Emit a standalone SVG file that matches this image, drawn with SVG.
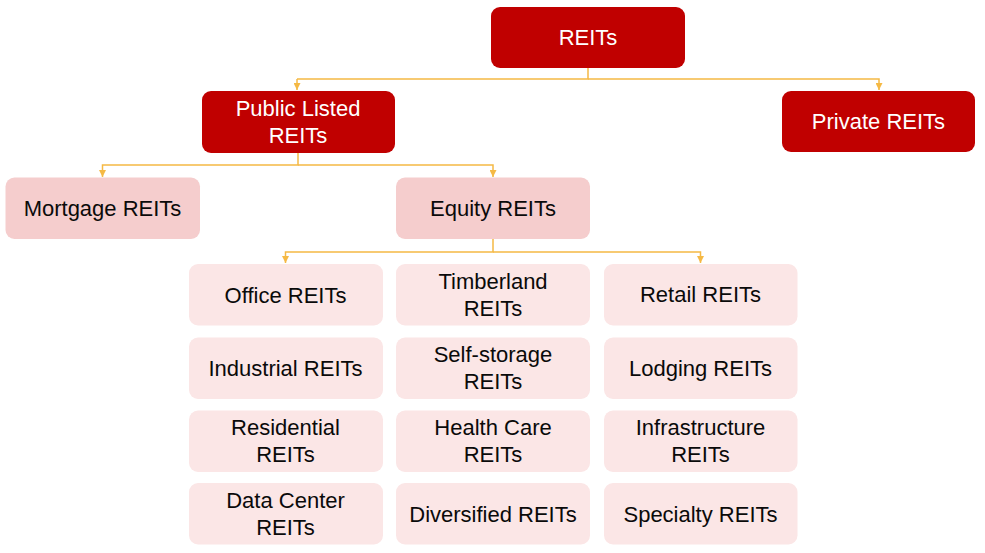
<svg xmlns="http://www.w3.org/2000/svg" width="985" height="553" viewBox="0 0 985 553">
<defs>
<marker id="arr" viewBox="0 0 10 10" refX="10" refY="5" markerWidth="7" markerHeight="7" markerUnits="userSpaceOnUse" orient="auto">
<path d="M0,0 L10,5 L0,10 Z" fill="#F5B944"/>
</marker>
<style>
.lvl1 rect{fill:#C00000}
.lvl2 rect{fill:#F5CDCD}
.lvl3 rect{fill:#FBE6E6}
.lvl1 text{fill:#FFFFFF}
text{font-family:"Liberation Sans",Arial,sans-serif;font-size:22px;text-anchor:middle;fill:#0A0A0A}
.conn path{fill:none;stroke:#F5B944;stroke-width:1.5}
</style>
</defs>
<rect width="985" height="553" fill="#FFFFFF"/>
<g class="conn">
<path d="M588,68 V79 H297"/>
<path d="M297,79 V90" marker-end="url(#arr)"/>
<path d="M588,79 H879 V90" marker-end="url(#arr)"/>
<path d="M298,153 V165 H102.5 V177" marker-end="url(#arr)"/>
<path d="M298,165 H493 V177" marker-end="url(#arr)"/>
<path d="M493,239 V252 H285.5 V263" marker-end="url(#arr)"/>
<path d="M493,252 H700.5 V263" marker-end="url(#arr)"/>
</g>
<g id="reits" class="lvl1"><rect x="491" y="7" width="194" height="61" rx="9"/><text x="588" y="45">REITs</text></g>
<g id="public" class="lvl1"><rect x="202" y="91" width="193" height="62" rx="9"/><text x="298" y="116">Public Listed</text><text x="298" y="143">REITs</text></g>
<g id="private" class="lvl1"><rect x="782" y="91" width="193" height="61" rx="9"/><text x="878.5" y="129">Private REITs</text></g>
<g id="mortgage" class="lvl2"><rect x="5.5" y="177.5" width="194.5" height="61.5" rx="9"/><text x="102.5" y="216">Mortgage REITs</text></g>
<g id="equity" class="lvl2"><rect x="396" y="177.5" width="194" height="61.5" rx="9"/><text x="493" y="216">Equity REITs</text></g>
<g id="office" class="lvl3"><rect x="189" y="264" width="194" height="61.5" rx="9"/><text x="285.5" y="302.5">Office REITs</text></g>
<g id="timberland" class="lvl3"><rect x="396" y="264" width="194" height="61.5" rx="9"/><text x="493" y="289">Timberland</text><text x="493" y="316">REITs</text></g>
<g id="retail" class="lvl3"><rect x="604" y="264" width="193.5" height="61.5" rx="9"/><text x="700.5" y="302">Retail REITs</text></g>
<g id="industrial" class="lvl3"><rect x="189" y="337.5" width="194" height="61.5" rx="9"/><text x="285.5" y="376">Industrial REITs</text></g>
<g id="selfstorage" class="lvl3"><rect x="396" y="337.5" width="194" height="61.5" rx="9"/><text x="493" y="362">Self-storage</text><text x="493" y="389">REITs</text></g>
<g id="lodging" class="lvl3"><rect x="604" y="337.5" width="193.5" height="61.5" rx="9"/><text x="700.5" y="376">Lodging REITs</text></g>
<g id="residential" class="lvl3"><rect x="189" y="410.5" width="194" height="61.5" rx="9"/><text x="285.5" y="435">Residential</text><text x="285.5" y="462">REITs</text></g>
<g id="healthcare" class="lvl3"><rect x="396" y="410.5" width="194" height="61.5" rx="9"/><text x="493" y="435">Health Care</text><text x="493" y="462">REITs</text></g>
<g id="infrastructure" class="lvl3"><rect x="604" y="410.5" width="193.5" height="61.5" rx="9"/><text x="700.5" y="435">Infrastructure</text><text x="700.5" y="462">REITs</text></g>
<g id="datacenter" class="lvl3"><rect x="189" y="483" width="194" height="61.5" rx="9"/><text x="285.5" y="508">Data Center</text><text x="285.5" y="535">REITs</text></g>
<g id="diversified" class="lvl3"><rect x="396" y="483" width="194" height="61.5" rx="9"/><text x="493" y="521.5">Diversified REITs</text></g>
<g id="specialty" class="lvl3"><rect x="604" y="483" width="193.5" height="61.5" rx="9"/><text x="700.5" y="521.5">Specialty REITs</text></g>
</svg>
